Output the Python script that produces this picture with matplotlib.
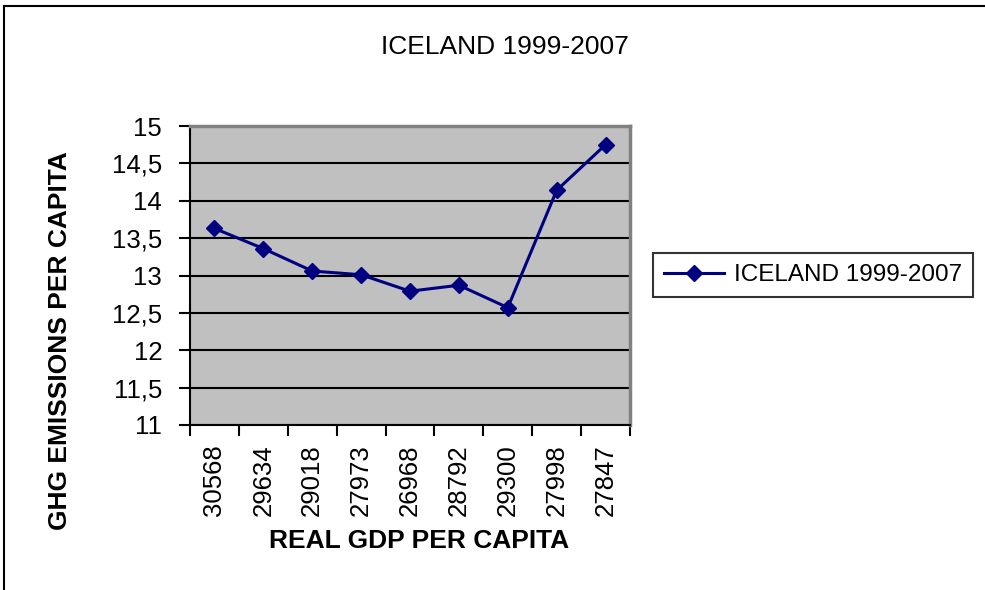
import matplotlib
matplotlib.use("Agg")
import matplotlib.pyplot as plt
from matplotlib.lines import Line2D
import numpy as np

plt.rcParams['font.family'] = ['Liberation Sans', 'DejaVu Sans']

gdp_labels = ["30568", "29634", "29018", "27973", "26968", "28792", "29300", "27998", "27847"]
ghg_values = [13.63, 13.36, 13.06, 13.01, 12.79, 12.87, 12.57, 14.14, 14.75]
series_name = "ICELAND 1999-2007"
y_ticks = [11, 11.5, 12, 12.5, 13, 13.5, 14, 14.5, 15]
y_tick_labels = ["11", "11,5", "12", "12,5", "13", "13,5", "14", "14,5", "15"]

W, H = 985, 590
fig = plt.figure(figsize=(W / 100, H / 100), dpi=100)
fig.patch.set_facecolor("white")

# chart frame: left and top edges
fig.add_artist(Line2D([4 / W, 4 / W], [0, 1 - 6 / H], color="black", lw=1.5,
                      transform=fig.transFigure))
fig.add_artist(Line2D([4 / W, 1], [1 - 6 / H, 1 - 6 / H], color="black", lw=1.5,
                      transform=fig.transFigure))

left, right, top, bottom = 190, 630, 126, 425
ax = fig.add_axes([left / W, 1 - bottom / H, (right - left) / W, (bottom - top) / H])
ax.set_facecolor("#C0C0C0")

x = np.arange(len(gdp_labels))
line, = ax.plot(x, ghg_values, color="#000080", lw=2.2, marker="D", markersize=8,
                markerfacecolor="#000080", markeredgecolor="#000080", zorder=3,
                label=series_name)

ax.set_xlim(-0.5, len(gdp_labels) - 0.5)
ax.set_ylim(11, 15)
ax.set_yticks(y_ticks)
ax.set_yticklabels(y_tick_labels, fontsize=18.5)
ax.yaxis.grid(True, color="black", lw=1.5)
ax.set_axisbelow(True)

# category boundaries carry the tick marks, centres carry the labels
ax.set_xticks(np.arange(-0.5, len(gdp_labels) + 0.5, 1))
ax.set_xticklabels([])
ax.set_xticks(x, minor=True)
ax.set_xticklabels(gdp_labels, minor=True, rotation=90, fontsize=18.5)
ax.tick_params(axis="x", which="minor", length=0, pad=14)
ax.tick_params(axis="x", which="major", length=8, width=1.5, direction="out")
ax.tick_params(axis="y", length=8, width=1.5, direction="out", pad=12)

for side in ("left", "bottom"):
    ax.spines[side].set_color("black")
    ax.spines[side].set_linewidth(1.5)
for side in ("top", "right"):
    ax.spines[side].set_color("#808080")
    ax.spines[side].set_linewidth(2.5)

fig.text(505 / W, 1 - 47 / H, "ICELAND 1999-2007", ha="center", va="center", fontsize=19)
fig.text(60 / W, 1 - 341 / H, "GHG EMISSIONS PER CAPITA", ha="center", va="center",
         rotation=90, fontsize=19, fontweight="bold")
fig.text(419 / W, 1 - 541 / H, "REAL GDP PER CAPITA", ha="center", va="center",
         fontsize=19, fontweight="bold")

leg = fig.legend(handles=[line], loc="center", bbox_to_anchor=(813 / W, 1 - 275 / H),
                 fontsize=17.5, frameon=True, fancybox=False, edgecolor="black",
                 handlelength=2.5, handletextpad=0.4, borderpad=0.45)
leg.get_frame().set_linewidth(1.5)

fig.savefig("out.png", dpi=100, facecolor="white")
